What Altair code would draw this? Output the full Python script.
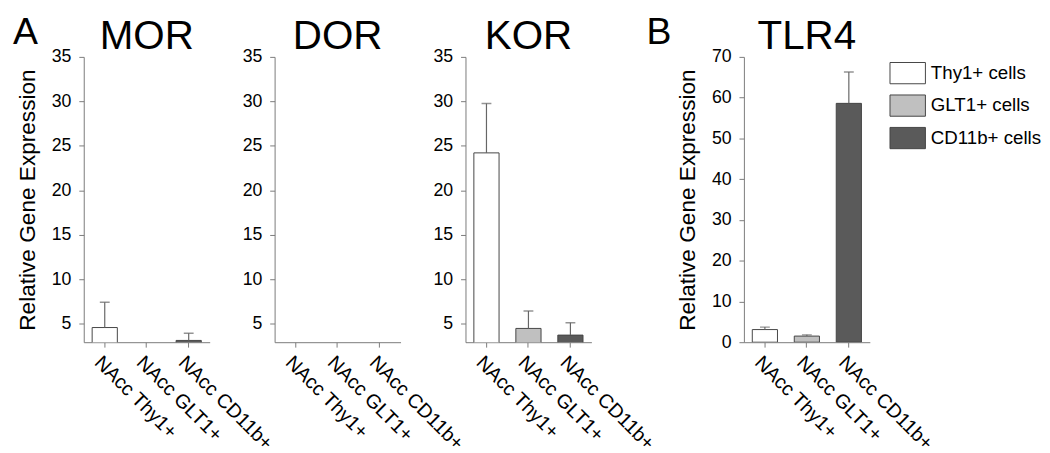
import altair as alt
import pandas as pd

FONT = "Liberation Sans"

cells = ["NAcc Thy1+", "NAcc GLT1+", "NAcc CD11b+"]
legend_labels = ["Thy1+ cells", "GLT1+ cells", "CD11b+ cells"]
bar_colors = ["#ffffff", "#c0c0c0", "#5a5a5a"]
panel_names = ["MOR", "DOR", "KOR", "TLR4"]
panel_letters = ["A", "B"]

mor_mean = [4.55, 1.0, 3.1]
mor_err = [2.85, 0.0, 0.8]
dor_mean = [1.0, 1.0, 1.0]
dor_err = [0.0, 0.0, 0.0]
kor_mean = [24.2, 4.45, 3.7]
kor_err = [5.55, 1.95, 1.4]
tlr4_mean = [3.1, 1.5, 58.6]
tlr4_err = [0.6, 0.3, 7.7]

opioid_ticks = [5, 10, 15, 20, 25, 30, 35]
tlr4_ticks = [0, 10, 20, 30, 40, 50, 60, 70]

AXIS_GRAY = "#7a7a7a"
W, H = 128, 290


def frame(mean, err):
    return pd.DataFrame({
        "cell": cells,
        "legend": legend_labels,
        "mean": mean,
        "top": [m + e for m, e in zip(mean, err)],
    })


def label(text, size, x, y, align):
    return alt.Chart(pd.DataFrame({"t": [text]})).mark_text(
        fontSize=size, font=FONT, align=align, baseline="alphabetic", color="black"
    ).encode(text="t:N", x=alt.value(x), y=alt.value(y))


def panel(name, mean, err, domain, ticks, ytitle, letter=None, letter_x=0, legend=False):
    df = frame(mean, err)
    base = alt.Chart(df)
    x = alt.X("cell:N", sort=cells, title=None,
              scale=alt.Scale(paddingInner=0.4, paddingOuter=0.2),
              axis=alt.Axis(labelAngle=45, labelAlign="left", labelBaseline="top",
                            labelFontSize=20, labelFont=FONT, labelColor="black",
                            labelPadding=5, tickSize=5, tickColor=AXIS_GRAY,
                            domainColor=AXIS_GRAY, labelLimit=300))
    yaxis = alt.Axis(values=ticks, tickSize=5, tickColor=AXIS_GRAY, domainColor=AXIS_GRAY,
                     labelFontSize=18, labelFont=FONT, labelColor="black", labelPadding=8,
                     grid=False, title=ytitle if ytitle else None,
                     titleFontSize=23, titleFont=FONT, titleFontWeight="normal",
                     titleColor="black", titlePadding=12)
    y = alt.Y("mean:Q", scale=alt.Scale(domain=domain, nice=False, zero=False), axis=yaxis)
    if legend:
        leg = alt.Legend(orient="none", legendX=148, legendY=-2, title=None,
                         symbolType="M-1,-0.6H1V0.6H-1Z", symbolSize=1296,
                         symbolStrokeColor="#444444", symbolStrokeWidth=1,
                         symbolOpacity=1, labelFontSize=19, labelFont=FONT,
                         labelColor="black", rowPadding=1, labelOffset=5)
    else:
        leg = None
    color = alt.Color("legend:N", sort=legend_labels,
                      scale=alt.Scale(domain=legend_labels, range=bar_colors), legend=leg)
    bars = base.mark_bar(stroke="#444444", strokeWidth=1, clip=True, opacity=1).encode(
        x=x, y=y, color=color)
    rules = base.mark_rule(color="#666666", strokeWidth=1.2, clip=True).encode(
        x=alt.X("cell:N", sort=cells), y="mean:Q", y2="top:Q")
    caps = base.mark_tick(color="#666666", thickness=1.5, size=10, orient="horizontal",
                          clip=True).encode(x=alt.X("cell:N", sort=cells), y="top:Q")
    layers = [bars, rules, caps, label(name, 41, W / 2, -8, "center")]
    if letter:
        layers.append(label(letter, 38, letter_x, -13, "left"))
    return alt.layer(*layers).properties(width=W, height=H)


mor = panel(panel_names[0], mor_mean, mor_err, [2.9, 35], opioid_ticks,
            "Relative Gene Expression", letter=panel_letters[0], letter_x=-72)
dor = panel(panel_names[1], dor_mean, dor_err, [2.9, 35], opioid_ticks, None)
kor = panel(panel_names[2], kor_mean, kor_err, [2.9, 35], opioid_ticks, None)
tlr4 = panel(panel_names[3], tlr4_mean, tlr4_err, [0, 70], tlr4_ticks,
             "Relative Gene Expression", letter=panel_letters[1], letter_x=-99, legend=True)

spacer = alt.Chart(pd.DataFrame({"a": [0]})).mark_point(opacity=0).encode(
    x=alt.X("a:Q", axis=None), y=alt.Y("a:Q", axis=None)
).properties(width=23, height=H)

chart = alt.hconcat(mor, dor, kor, spacer, tlr4, spacing=66, bounds="flush").resolve_scale(
    color="independent", y="independent", x="independent"
).properties(
    padding={"left": 5, "top": 3, "right": 0, "bottom": 0}, background="white"
).configure_view(stroke=None)

chart.save("out.html", embed_options={"renderer": "svg", "actions": False})
